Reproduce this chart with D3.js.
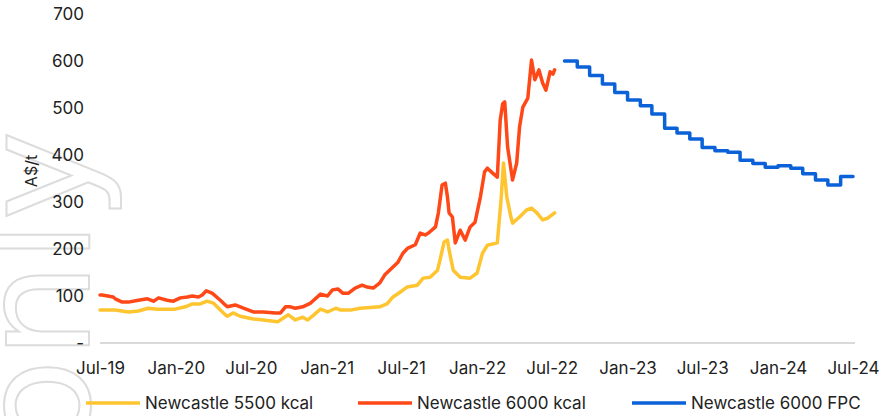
<!DOCTYPE html>
<html>
<head>
<meta charset="utf-8">
<script src="https://cdn.jsdelivr.net/npm/d3@7"></script>
<style>
  html, body { margin: 0; padding: 0; background: #fff; }
  svg { display: block; font-family: Inter, "Open Sans", sans-serif; }
</style>
</head>
<body>
<svg id="chart" width="881" height="416"></svg>
<script>
// Newcastle 5500 kcal spot price (A$/t)
const dates5500 = ["2019-07-01","2019-08-07","2019-09-08","2019-10-02","2019-10-26","2019-11-17","2019-12-13","2019-12-30",
  "2020-01-24","2020-02-10","2020-02-29","2020-03-17","2020-04-01","2020-04-18","2020-04-30","2020-05-05","2020-05-19",
  "2020-06-05","2020-07-07","2020-07-31","2020-09-04","2020-09-18","2020-09-30","2020-10-17","2020-11-04","2020-11-16",
  "2020-12-01","2020-12-17","2021-01-03","2021-01-23","2021-02-04","2021-02-28","2021-03-23","2021-05-10","2021-05-27",
  "2021-06-11","2021-06-28","2021-07-15","2021-08-09","2021-08-23","2021-09-09","2021-09-27","2021-10-03","2021-10-13",
  "2021-10-21","2021-10-25","2021-11-04","2021-11-21","2021-12-15","2022-01-01","2022-01-14","2022-01-26","2022-02-19",
  "2022-02-28","2022-03-06","2022-03-14","2022-03-24","2022-03-28","2022-04-14","2022-05-01","2022-05-13","2022-05-26",
  "2022-06-09","2022-06-22","2022-07-08"];
const nc5500 = [70,70,66,68,74,72,72,72,
  77,83,83,89,85,70,60,57,64,
  57,51,49,45,53,60,49,55,49,
  60,72,66,74,70,70,74,77,83,
  98,108,119,123,138,140,155,177,215,
  219,198,155,140,138,149,191,208,213,
  304,383,311,268,255,268,283,287,277,
  262,266,277];

// Newcastle 6000 kcal spot price (A$/t)
const dates6000 = ["2019-07-01","2019-07-06","2019-07-20","2019-08-02","2019-08-07","2019-08-24","2019-09-08","2019-10-02",
  "2019-10-24","2019-11-08","2019-11-20","2019-12-11","2019-12-26","2020-01-12","2020-01-29","2020-02-10","2020-02-25",
  "2020-03-05","2020-03-15","2020-03-29","2020-04-18","2020-04-30","2020-05-05","2020-05-24","2020-06-13","2020-07-07",
  "2020-07-31","2020-08-30","2020-09-11","2020-09-23","2020-10-05","2020-10-17","2020-11-04","2020-11-23","2020-12-17",
  "2021-01-03","2021-01-15","2021-01-28","2021-02-09","2021-02-23","2021-03-11","2021-03-28","2021-04-09","2021-04-24",
  "2021-05-10","2021-05-22","2021-06-09","2021-06-23","2021-07-05","2021-07-17","2021-08-04","2021-08-16","2021-08-28",
  "2021-09-05","2021-09-22","2021-09-29","2021-10-08","2021-10-16","2021-10-21","2021-10-25","2021-11-02","2021-11-09",
  "2021-11-21","2021-12-03","2021-12-15","2021-12-27","2022-01-09","2022-01-19","2022-01-26","2022-02-07","2022-02-19",
  "2022-02-26","2022-03-04","2022-03-09","2022-03-16","2022-03-28","2022-04-07","2022-04-14","2022-04-22","2022-05-04",
  "2022-05-13","2022-05-21","2022-05-31","2022-06-09","2022-06-17","2022-06-27","2022-07-04","2022-07-08"];
const nc6000 = [102,102,100,98,94,87,87,91,
  94,89,96,91,89,96,98,100,98,
  102,111,106,91,81,77,81,74,66,
  66,64,64,77,77,74,77,85,104,
  100,113,115,106,106,117,123,119,117,
  128,145,160,172,191,202,209,234,230,
  234,247,277,336,340,311,277,268,213,
  240,219,247,257,311,364,372,362,353,
  474,509,513,417,347,383,460,502,521,
  602,560,581,553,538,577,572,581];

// Newcastle 6000 forward price curve, monthly (A$/t)
const fpcMonths = ["2022-08","2022-09","2022-10","2022-11","2022-12","2023-01","2023-02","2023-03","2023-04","2023-05",
  "2023-06","2023-07","2023-08","2023-09","2023-10","2023-11","2023-12","2024-01","2024-02","2024-03",
  "2024-04","2024-05","2024-06","2024-07"];
const fpc6000 = [600,587,569,551,533,517,505,487,457,447,
  434,416,409,406,389,382,374,377,372,360,
  347,336,354,354];

const yTickValues = [0,100,200,300,400,500,600,700];
const yTickLabels = ["-","100","200","300","400","500","600","700"];
const xTickLabels = ["Jul-19","Jan-20","Jul-20","Jan-21","Jul-21","Jan-22","Jul-22","Jan-23","Jul-23","Jan-24","Jul-24"];
const seriesNames = ["Newcastle 5500 kcal","Newcastle 6000 kcal","Newcastle 6000 FPC"];
const seriesColors = ["#FFC530","#FF4817","#0B62D8"];

const parseDay = d3.timeParse("%Y-%m-%d");
const parseMonth = d3.timeParse("%Y-%m");

const svg = d3.select("#chart");

// faint outlined watermark running up the left edge
svg.append("text")
  .attr("transform", "translate(89,452) rotate(-90)")
  .attr("font-family", "'DejaVu Sans', sans-serif")
  .attr("font-size", 152)
  .attr("fill", "none")
  .attr("stroke", "#dcdcdc")
  .attr("stroke-width", 2)
  .text("only");

const x = d3.scaleTime()
  .domain([parseDay("2019-07-01"), parseDay("2024-07-01")])
  .range([100, 853]);
const y = d3.scaleLinear().domain([0, 700]).range([343, 14]);

// baseline
svg.append("line")
  .attr("x1", x.range()[0]).attr("x2", x.range()[1] + 2)
  .attr("y1", y(0)).attr("y2", y(0))
  .attr("stroke", "#d9d9d9").attr("stroke-width", 2);

// y axis labels
const yAxis = d3.axisLeft(y).tickValues(yTickValues)
  .tickFormat((d, i) => yTickLabels[i]).tickSize(0).tickPadding(0);
const gy = svg.append("g").attr("transform", "translate(84,0)").call(yAxis);
gy.select(".domain").remove();
gy.selectAll("text").attr("font-size", 17).attr("fill", "#222").attr("font-family", "Inter, sans-serif");

// x axis labels
const xTicks = d3.range(xTickLabels.length).map(i => d3.timeMonth.offset(x.domain()[0], 6 * i));
const xAxis = d3.axisBottom(x).tickValues(xTicks)
  .tickFormat((d, i) => xTickLabels[i]).tickSize(0).tickPadding(0);
const gx = svg.append("g").attr("transform", `translate(0,${y(0) + 19})`).call(xAxis);
gx.select(".domain").remove();
gx.selectAll("text").attr("font-size", 17).attr("fill", "#222").attr("font-family", "Inter, sans-serif");

// axis title
svg.append("text")
  .attr("transform", "translate(37,171) rotate(-90)")
  .attr("text-anchor", "middle")
  .attr("font-size", 16).attr("fill", "#222")
  .text("A$/t");

const line = d3.line().x(d => x(d[0])).y(d => y(d[1]));
const stepLine = d3.line().curve(d3.curveStepAfter).x(d => x(d[0])).y(d => y(d[1]));

const s5500 = dates5500.map((d, i) => [parseDay(d), nc5500[i]]);
const s6000 = dates6000.map((d, i) => [parseDay(d), nc6000[i]]);
const sFpc = fpcMonths.map((d, i) => [parseMonth(d), fpc6000[i]]);

svg.append("path").datum(s5500).attr("d", line)
  .attr("fill", "none").attr("stroke", seriesColors[0]).attr("stroke-width", 3.5)
  .attr("stroke-linejoin", "round").attr("stroke-linecap", "round");
svg.append("path").datum(s6000).attr("d", line)
  .attr("fill", "none").attr("stroke", seriesColors[1]).attr("stroke-width", 3.5)
  .attr("stroke-linejoin", "round").attr("stroke-linecap", "round");
svg.append("path").datum(sFpc).attr("d", stepLine)
  .attr("fill", "none").attr("stroke", seriesColors[2]).attr("stroke-width", 3.5)
  .attr("stroke-linejoin", "round").attr("stroke-linecap", "round");

// legend
const legendX = [86, 358, 632];
const lg = svg.append("g");
seriesNames.forEach((name, i) => {
  lg.append("line")
    .attr("x1", legendX[i]).attr("x2", legendX[i] + 54)
    .attr("y1", 403).attr("y2", 403)
    .attr("stroke", seriesColors[i]).attr("stroke-width", 3.5);
  lg.append("text")
    .attr("x", legendX[i] + 59).attr("y", 409)
    .attr("font-size", 17).attr("fill", "#222")
    .text(name);
});
</script>
</body>
</html>
